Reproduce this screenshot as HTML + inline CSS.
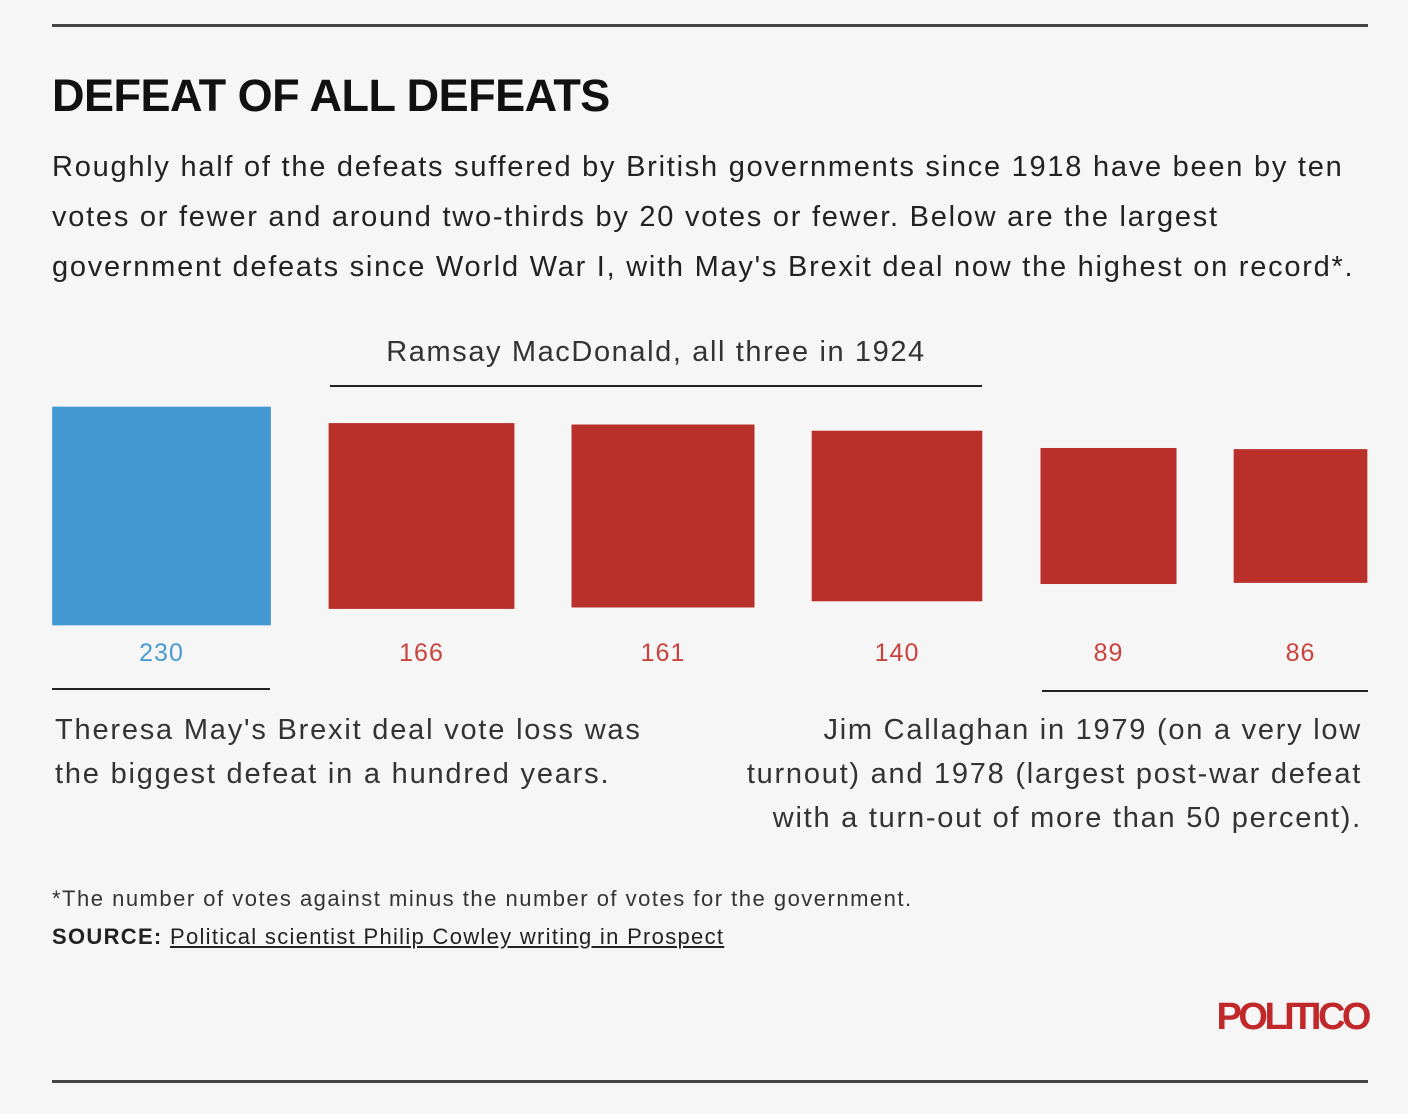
<!DOCTYPE html>
<html><head><meta charset="utf-8"><style>
body{margin:0;width:1408px;height:1114px;background:#f6f6f7;font-family:"Liberation Sans",sans-serif;position:relative;overflow:hidden;color:#222}
.abs{position:absolute;white-space:nowrap}
.rule{position:absolute;left:52px;width:1316px;height:3px;background:#444}
</style></head><body>
<div class="rule" style="top:24px"></div>
<div class="abs" style="left:52px;top:70px;font-size:45px;font-weight:bold;color:#111;letter-spacing:-0.5px">DEFEAT OF ALL DEFEATS</div>
<div class="abs" style="left:52px;top:142px;font-size:29px;line-height:50px;color:#222;letter-spacing:1.75px">Roughly half of the defeats suffered by British governments since 1918 have been by ten<br>votes or fewer and around two-thirds by 20 votes or fewer. Below are the largest<br>government defeats since World War I, with May's Brexit deal now the highest on record*.</div>
<div class="abs" style="left:330px;top:336px;width:652px;text-align:center;font-size:29px;color:#333;letter-spacing:1.6px">Ramsay MacDonald, all three in 1924</div>
<div class="abs" style="left:330px;top:385px;width:652px;height:2px;background:#222"></div>
<svg class="abs" style="left:0;top:0" width="1408" height="700" id="chart"></svg>
<div class="abs" style="left:52px;top:688px;width:218px;height:2px;background:#222"></div>
<div class="abs" style="left:55px;top:708px;font-size:29px;line-height:44px;color:#333;letter-spacing:1.8px">Theresa May's Brexit deal vote loss was<br>the biggest defeat in a hundred years.</div>
<div class="abs" style="left:1042px;top:690px;width:326px;height:2px;background:#222"></div>
<div class="abs" style="right:46px;top:708px;font-size:29px;line-height:44px;color:#333;text-align:right;letter-spacing:1.75px">Jim Callaghan in 1979 (on a very low<br>turnout) and 1978 (largest post-war defeat<br>with a turn-out of more than 50 percent).</div>
<div class="abs" style="left:52px;top:886px;font-size:22px;color:#333;letter-spacing:1.5px">*The number of votes against minus the number of votes for the government.</div>
<div class="abs" style="left:52px;top:924px;font-size:22px;color:#222;letter-spacing:1.3px"><b>SOURCE:</b> <span style="text-decoration:underline">Political scientist Philip Cowley writing in Prospect</span></div>
<div class="abs" style="right:40px;top:996px;font-size:38px;font-weight:bold;color:#c0282a;letter-spacing:-3.5px">POLITICO</div>
<div class="rule" style="top:1080px"></div>
<script>
const categories=["May 2019","MacDonald 1924 a","MacDonald 1924 b","MacDonald 1924 c","Callaghan 1979","Callaghan 1978"];
const values=[230,166,161,140,89,86];
const colors=["#4499d4","#b92f29","#b92f29","#b92f29","#b92f29","#b92f29"];
const labelColors=["#4a9bd2","#c9433c","#c9433c","#c9433c","#c9433c","#c9433c"];
const centers=[161.5,421.5,663,897,1108.5,1300.5];
const k=14.42, cy=516;
const side=v=>k*Math.sqrt(v);
const svg=document.getElementById('chart');
const ns="http://www.w3.org/2000/svg";
values.forEach((v,i)=>{
  const s=side(v);
  const r=document.createElementNS(ns,'rect');
  r.setAttribute('x',centers[i]-s/2);r.setAttribute('y',cy-s/2);
  r.setAttribute('width',s);r.setAttribute('height',s);r.setAttribute('fill',colors[i]);
  
  
  svg.appendChild(r);
  const t=document.createElementNS(ns,'text');
  t.setAttribute('x',centers[i]);t.setAttribute('y',661);t.setAttribute('text-anchor','middle');
  t.setAttribute('font-size','25');t.setAttribute('fill',labelColors[i]);
  t.setAttribute('letter-spacing','1');
  t.setAttribute('font-family','Liberation Sans, sans-serif');
  t.textContent=v;
  
  
  svg.appendChild(t);
});
</script>
</body></html>
